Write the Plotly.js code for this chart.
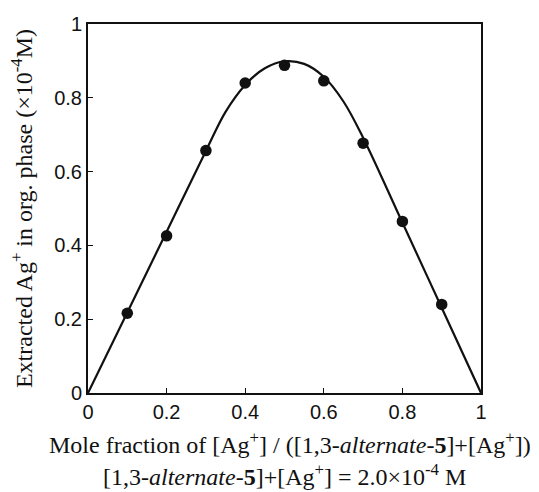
<!DOCTYPE html>
<html>
<head>
<meta charset="utf-8">
<script src="https://cdn.plot.ly/plotly-3.0.1.min.js"></script>
<style>html,body{margin:0;padding:0;background:#fff}#chart{width:539px;height:492px}</style>
</head>
<body>
<div id="chart"></div>
<script>
// Measured points (mole fraction vs extracted Ag+, x10^-4 M)
const moleFraction = [0.1, 0.2, 0.3, 0.4, 0.5, 0.6, 0.7, 0.8, 0.9];
const extracted = [0.216, 0.426, 0.657, 0.840, 0.888, 0.846, 0.677, 0.465, 0.240];
// Fitted curve
const curveX = [0, 0.1, 0.2, 0.3, 0.35, 0.4, 0.45, 0.5, 0.55, 0.6, 0.65, 0.7, 0.8, 0.9, 1.0];
const curveY = [0, 0.218, 0.437, 0.656, 0.762, 0.835, 0.880, 0.899, 0.892, 0.857, 0.790, 0.692, 0.462, 0.231, 0];
const tickVals = [0, 0.2, 0.4, 0.6, 0.8, 1];
const xTitle = 'Mole fraction of [Ag<sup>+</sup>] / ([1,3-<i>alternate</i>-<b>5</b>]+[Ag<sup>+</sup>])';
const yTitle = 'Extracted Ag<sup>+</sup> in org. phase (×10<sup>-4</sup>M)';
const subTitle = '[1,3-<i>alternate</i>-<b>5</b>]+[Ag<sup>+</sup>] = 2.0×10<sup>-4</sup> M';

const traces = [
  {x: curveX, y: curveY, mode: 'lines', line: {color: '#111', width: 2.2, shape: 'spline', smoothing: 1}, hoverinfo: 'skip'},
  {x: moleFraction, y: extracted, mode: 'markers', marker: {color: '#111', size: 11.5}}
];
const axisCommon = {
  range: [0, 1], tickvals: tickVals, ticks: 'inside', ticklen: 5, tickwidth: 1, tickcolor: '#111',
  showline: true, linecolor: '#111', linewidth: 2, mirror: true, showgrid: false, zeroline: false,
  tickfont: {family: 'Liberation Sans, Arial, sans-serif', size: 20, color: '#111'}
};
const serif = {family: 'Liberation Serif, Times New Roman, serif', size: 24, color: '#111'};
const layout = {
  width: 539, height: 492,
  margin: {l: 88, r: 58, t: 24, b: 99},
  showlegend: false,
  paper_bgcolor: '#fff', plot_bgcolor: '#fff',
  xaxis: Object.assign({}, axisCommon),
  yaxis: Object.assign({}, axisCommon, {
    title: {text: yTitle, font: serif, standoff: 15}
  }),
  annotations: [
    {text: xTitle, xref: 'paper', yref: 'paper', x: 0.514, y: -0.135, xanchor: 'center', yanchor: 'middle',
     showarrow: false, font: serif},
    {text: subTitle, xref: 'paper', yref: 'paper', x: 0.5, y: -0.222, xanchor: 'center', yanchor: 'middle',
     showarrow: false, font: serif}
  ]
};
Plotly.newPlot('chart', traces, layout, {displayModeBar: false, staticPlot: true});
</script>
</body>
</html>
